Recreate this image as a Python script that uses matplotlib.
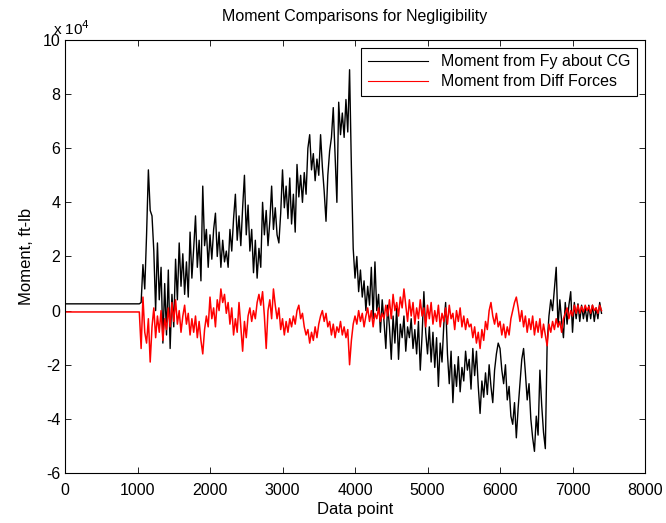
import numpy as np
import matplotlib
matplotlib.use("Agg")
import matplotlib.pyplot as plt
from matplotlib.ticker import FuncFormatter, MultipleLocator

plt.rcParams['font.family'] = ['Liberation Sans', 'DejaVu Sans']

# quiet stretch before the run starts (values in units of 1e4 ft-lb)
x_flat = [0, 1025]
fy_flat = [0.25, 0.25]
diff_flat = [-0.05, -0.05]

# sampled every 25 data points from 1050 to 7400, units of 1e4 ft-lb
x_run = np.arange(1050, 7401, 25)

fy_cg = [
    0.3, 1.7, 0.8, 2.8, 5.2, 3.7, 3.5, 2.2, 0.0, 2.5, 0.4, 1.6, -1.2, 1.0, -0.9, 1.5, -1.4, 0.6, -0.6, 1.9,
    0.4, 2.5, 0.9, 2.1, 0.6, 1.8, 0.5, 2.9, 1.2, 2.3, 3.5, 1.6, 2.6, 1.1, 4.6, 2.4, 3.0, 1.6, 2.8, 1.9,
    3.0, 3.6, 2.0, 2.9, 1.6, 2.6, 1.8, 2.2, 1.6, 3.0, 2.2, 3.4, 4.3, 2.6, 3.5, 2.4, 3.8, 5.0, 2.8, 3.9,
    2.2, 3.0, 1.4, 2.6, 1.2, 2.3, 1.6, 4.0, 2.8, 3.7, 2.4, 3.3, 4.6, 3.0, 3.8, 2.8, 2.5, 3.6, 5.2, 3.8,
    4.6, 3.4, 4.9, 3.2, 4.3, 2.9, 5.4, 4.2, 5.0, 4.0, 5.1, 4.3, 6.0, 6.5, 5.2, 5.8, 4.8, 5.6, 5.0, 6.5,
    5.3, 4.4, 3.3, 5.0, 5.9, 6.4, 7.5, 5.8, 4.0, 7.7, 6.5, 7.3, 6.4, 7.8, 6.6, 8.9, 5.3, 2.3, 1.2, 2.0,
    0.7, 1.5, 0.5, 1.1, 0.0, 0.9, 0.2, 1.6, -0.3, 1.8, 0.0, 0.6, -0.8, 0.4, -0.4, -1.4, 0.2, -0.6, -1.8, -0.2,
    -1.2, 0.1, -1.8, -0.5, -1.0, -0.2, -1.5, -0.6, -1.0, -0.3, -1.4, -0.7, -1.6, -0.4, -2.2, -0.9, 0.7, -0.8, -1.6, -0.6,
    -1.9, -0.8, -2.1, -1.0, -2.8, -1.2, -1.9, -0.5, 0.3, -1.6, -2.7, -1.5, -3.4, -2.0, -2.8, -1.7, -3.0, -2.1, -2.6, -1.5,
    -2.2, -1.8, -2.9, -1.4, -2.4, -1.5, -2.8, -3.8, -2.6, -3.2, -2.3, -3.1, -2.0, -2.8, -3.4, -2.2, -1.6, -1.2, -1.4, -2.2,
    -2.7, -2.0, -3.3, -2.8, -3.9, -4.2, -3.4, -4.7, -3.6, -2.7, -1.8, -1.4, -2.3, -3.3, -2.7, -4.0, -4.7, -5.2, -3.9, -4.6,
    -2.2, -3.5, -4.5, -5.1, -1.2, -0.2, 0.4, 0.0, 0.8, 1.6, -0.6, 0.4, -0.4, -1.0, 0.3, -0.5, 0.2, 0.7, -0.8, 0.3,
    -0.3, 0.25, -0.4, 0.2, -0.3, 0.1, -0.4, 0.2, -0.3, 0.2, -0.4, 0.1, -0.3, 0.3, -0.1,
]

diff_forces = [
    -1.4, 0.5, -0.8, -1.2, -0.3, -1.9, -0.6, 0.1, -1.0, -0.2, -0.8, 0.0, -1.1, -0.3, -0.7, 0.1, -0.6, 0.3, -0.4, 0.4,
    -0.5, 0.0, -0.8, -0.2, 0.2, -0.5, -0.1, -0.9, -0.3, -0.8, -0.2, -1.0, -0.4, -1.1, -1.6, -0.7, -0.2, -0.6, 0.5, -0.3,
    0.1, -0.6, 0.4, 0.0, 0.8, 0.3, 0.6, -0.1, 0.3, -0.5, 0.1, -0.9, -0.3, -0.8, 0.3, -0.6, -1.5, -0.4, -1.0, -0.2,
    0.1, -0.4, 0.0, -0.3, 0.3, 0.6, 0.2, 0.7, -0.2, -1.4, 0.0, 0.4, -0.3, 0.8, 0.2, -0.3, 0.1, -0.7, -0.3, -0.9,
    -0.4, -0.8, -0.3, -0.6, -0.2, -0.5, 0.0, 0.2, -0.3, -0.1, -0.6, -0.9, -0.7, -1.2, -0.8, -1.1, -0.6, -1.0, -0.5, -0.2,
    0.0, -0.4, -0.1, -0.6, -0.4, -0.9, -0.5, -1.0, -0.6, -0.8, -0.4, -0.9, -0.6, -1.0, -0.7, -2.0, -1.1, -0.5, -0.2, -0.5,
    0.0, -0.4, -0.1, -0.6, -0.2, 0.1, -0.4, 0.0, -0.6, -0.1, -0.3, 0.1, -0.4, -0.1, -0.3, 0.2, -0.2, 0.4, -0.3, 0.6,
    0.0, 0.3, -0.2, 0.5, 0.1, 0.8, 0.2, -0.4, 0.4, -0.2, 0.3, -0.5, 0.1, -0.3, 0.4, -0.2, 0.1, -0.6, 0.2, -0.3,
    0.3, -0.5, 0.0, -0.4, 0.2, -0.6, -0.1, -0.4, 0.1, -0.5, 0.2, -0.3, -0.1, -0.7, 0.0, -0.4, 0.1, -0.6, -0.2, -0.7,
    -0.3, -0.6, -0.5, -1.0, -0.6, -1.2, -0.8, -1.4, -0.7, -1.1, -0.4, -0.7, 0.0, 0.3, -0.2, -0.5, -0.1, -0.6, -0.4, -0.9,
    -0.5, -1.0, -0.6, -0.9, -0.3, 0.0, 0.3, 0.5, 0.1, -0.4, 0.0, -0.6, -0.2, -0.8, -0.3, -0.7, -0.2, -0.9, -0.4, -0.8,
    -0.3, -1.0, -0.5, -0.9, -1.3, -0.5, -0.8, -0.4, -0.7, -0.3, -0.6, -0.4, -0.8, -0.3, -0.1, 0.1, -0.3, 0.0, -0.2, 0.2,
    -0.1, 0.2, -0.1, 0.15, -0.05, 0.2, 0.0, 0.15, -0.1, 0.2, 0.0, 0.1, -0.1, 0.2, 0.0,
]

x = np.concatenate([x_flat, x_run])
m_fy = np.concatenate([fy_flat, fy_cg]) * 1e4
m_diff = np.concatenate([diff_flat, diff_forces]) * 1e4

fig = plt.figure(figsize=(6.66, 5.23), dpi=100)
ax = fig.add_axes([0.0976, 0.0956, 0.8709, 0.828])

ax.plot(x, m_fy, color='black', lw=1.0, label='Moment from Fy about CG')
ax.plot(x, m_diff, color='red', lw=1.1, label='Moment from Diff Forces')

ax.set_xlim(0, 8000)
ax.set_ylim(-6e4, 10e4)
ax.xaxis.set_major_locator(MultipleLocator(1000))
ax.yaxis.set_major_locator(MultipleLocator(2e4))
ax.yaxis.set_major_formatter(FuncFormatter(lambda v, p: '%d' % round(v / 1e4)))
ax.tick_params(direction='in', top=True, right=True, length=4, width=0.6, labelsize=11.5)
ax.tick_params(axis='x', pad=7)
for s in ax.spines.values():
    s.set_linewidth(0.8)

ax.text(-0.02, 1.005, r'x 10$^{4}$', transform=ax.transAxes, ha='left', va='bottom', fontsize=11)
ax.set_title('Moment Comparisons for Negligibility', fontsize=11.5, pad=14)
ax.set_xlabel('Data point', fontsize=12, labelpad=3)
ax.set_ylabel('Moment, ft-lb', fontsize=12, labelpad=6)

leg = ax.legend(loc='upper right', fontsize=11.5, fancybox=False, framealpha=1,
                edgecolor='black', handlelength=3.8, borderaxespad=0.5, labelspacing=0.3)
leg.get_frame().set_linewidth(0.8)
for h in leg.get_lines():
    h.set_linewidth(0.8)

fig.savefig('out.png', dpi=100)
